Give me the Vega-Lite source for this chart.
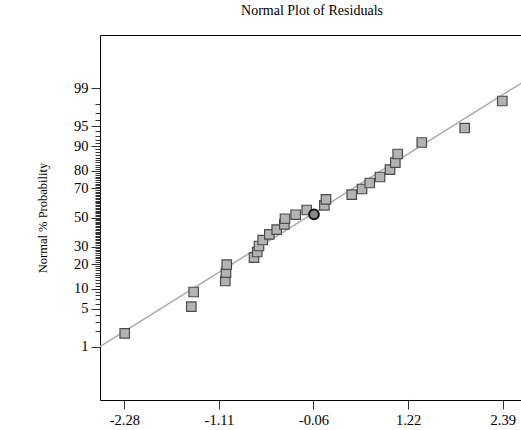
{
  "$schema": "https://vega.github.io/schema/vega-lite/v6.json",
  "autosize": "none",
  "padding": {"left": 100, "top": 35, "right": 0, "bottom": 30},
  "width": 424,
  "height": 365,
  "background": "white",
  "title": {"text": "Normal Plot of Residuals", "font": "Liberation Serif", "fontSize": 14, "fontWeight": "normal", "color": "#000", "anchor": "middle", "offset": 17},
  "config": {
    "view": {"stroke": "#000", "strokeWidth": 1},
    "font": "Liberation Serif"
  },
  "datasets": {
    "residuals": [
      {"residual": -2.275, "z": -2.088, "highlight": false},
      {"residual": -1.453, "z": -1.608, "highlight": false},
      {"residual": -1.424, "z": -1.343, "highlight": false},
      {"residual": -1.034, "z": -1.145, "highlight": false},
      {"residual": -1.025, "z": -0.995, "highlight": false},
      {"residual": -1.016, "z": -0.851, "highlight": false},
      {"residual": -0.679, "z": -0.725, "highlight": false},
      {"residual": -0.639, "z": -0.622, "highlight": false},
      {"residual": -0.618, "z": -0.514, "highlight": false},
      {"residual": -0.572, "z": -0.406, "highlight": false},
      {"residual": -0.490, "z": -0.303, "highlight": false},
      {"residual": -0.399, "z": -0.220, "highlight": false},
      {"residual": -0.305, "z": -0.123, "highlight": false},
      {"residual": -0.297, "z": -0.022, "highlight": false},
      {"residual": -0.165, "z": 0.050, "highlight": false},
      {"residual": 0.061, "z": 0.058, "highlight": true},
      {"residual": -0.029, "z": 0.135, "highlight": false},
      {"residual": 0.189, "z": 0.220, "highlight": false},
      {"residual": 0.209, "z": 0.328, "highlight": false},
      {"residual": 0.527, "z": 0.411, "highlight": false},
      {"residual": 0.654, "z": 0.514, "highlight": false},
      {"residual": 0.749, "z": 0.622, "highlight": false},
      {"residual": 0.876, "z": 0.730, "highlight": false},
      {"residual": 0.999, "z": 0.862, "highlight": false},
      {"residual": 1.065, "z": 0.988, "highlight": false},
      {"residual": 1.094, "z": 1.145, "highlight": false},
      {"residual": 1.391, "z": 1.352, "highlight": false},
      {"residual": 1.921, "z": 1.613, "highlight": false},
      {"residual": 2.385, "z": 2.100, "highlight": false}
    ],
    "fit": [
      {"residual": -2.58, "z": -2.329},
      {"residual": 2.653, "z": 2.453}
    ]
  },
  "encoding": {
    "x": {
      "field": "residual", "type": "quantitative",
      "scale": {"domain": [-2.58, 2.653], "nice": false, "zero": false},
      "axis": {
        "title": null, "grid": false, "domain": false,
        "values": [-2.28, -1.1125, 0.055, 1.2225, 2.39],
        "labelExpr": "datum.value < -2 ? '-2.28' : datum.value < -1 ? '-1.11' : datum.value < 0.5 ? '-0.06' : datum.value < 2 ? '1.22' : '2.39'",
        "tickSize": 9, "tickColor": "#333", "tickWidth": 1,
        "labelFont": "Liberation Serif", "labelFontSize": 14.5, "labelColor": "#000", "labelPadding": 4,
        "labelOverlap": false, "labelFlush": false
      }
    },
    "y": {
      "field": "z", "type": "quantitative",
      "scale": {"domain": [-3.29, 3.29], "nice": false, "zero": false},
      "axis": {
        "title": "Normal % Probability", "grid": false, "domain": false,
        "titleFont": "Liberation Serif", "titleFontSize": 12.5, "titleFontWeight": "normal", "titleColor": "#000",
        "titleAngle": -90, "titleX": -58, "titleY": 182.5, "titleAlign": "center", "titleBaseline": "middle",
        "values": [-2.3263, -2.0537, -1.8808, -1.7507, -1.6449, -1.5548, -1.4758, -1.4051, -1.3408, -1.2816, -1.2265, -1.175, -1.1264, -1.0803, -1.0364, -0.9945, -0.9542, -0.9154, -0.8779, -0.8416, -0.8064, -0.7722, -0.7388, -0.7063, -0.6745, -0.6433, -0.6128, -0.5828, -0.5534, -0.5244, -0.4959, -0.4677, -0.4399, -0.4125, -0.3853, -0.3585, -0.3319, -0.3055, -0.2793, -0.2533, -0.2275, -0.2019, -0.1764, -0.151, -0.1257, -0.1004, -0.0753, -0.0502, -0.0251, 0, 0.0251, 0.0502, 0.0753, 0.1004, 0.1257, 0.151, 0.1764, 0.2019, 0.2275, 0.2533, 0.2793, 0.3055, 0.3319, 0.3585, 0.3853, 0.4125, 0.4399, 0.4677, 0.4959, 0.5244, 0.5534, 0.5828, 0.6128, 0.6433, 0.6745, 0.7063, 0.7388, 0.7722, 0.8064, 0.8416, 0.8779, 0.9154, 0.9542, 0.9945, 1.0364, 1.0803, 1.1264, 1.175, 1.2265, 1.2816, 1.3408, 1.4051, 1.4758, 1.5548, 1.6449, 1.7507, 1.8808, 2.0537, 2.3263],
        "labelExpr": "datum.value == -2.3263 ? '1' : datum.value == -1.6449 ? '5' : datum.value == -1.2816 ? '10' : datum.value == -0.8416 ? '20' : datum.value == -0.5244 ? '30' : datum.value == 0 ? '50' : datum.value == 0.5244 ? '70' : datum.value == 0.8416 ? '80' : datum.value == 1.2816 ? '90' : datum.value == 1.6449 ? '95' : datum.value == 2.3263 ? '99' : ''",
        "tickSize": {"condition": {"test": "abs(datum.value) == 2.3263 || abs(datum.value) == 1.6449 || abs(datum.value) == 1.2816 || abs(datum.value) == 0.8416 || abs(datum.value) == 0.5244 || datum.value == 0", "value": 9}, "value": 5},
        "tickColor": "#333", "tickWidth": 1,
        "labelFont": "Liberation Serif", "labelFontSize": 14.5, "labelColor": "#000", "labelPadding": 3,
        "labelOverlap": false, "labelFlush": false
      }
    }
  },
  "layer": [
    {
      "data": {"name": "fit"},
      "mark": {"type": "line", "color": "#ababab", "strokeWidth": 1.5, "clip": true}
    },
    {
      "data": {"name": "residuals"},
      "transform": [{"filter": "!datum.highlight"}],
      "mark": {"type": "point", "shape": "square", "filled": true, "size": 90, "fill": "#b3b3b3", "stroke": "#4a4a4a", "strokeWidth": 1.2, "opacity": 1}
    },
    {
      "data": {"name": "residuals"},
      "transform": [{"filter": "datum.highlight"}],
      "mark": {"type": "point", "shape": "circle", "filled": true, "size": 95, "fill": "#8a8a8a", "stroke": "#111", "strokeWidth": 2, "opacity": 1}
    }
  ]
}
